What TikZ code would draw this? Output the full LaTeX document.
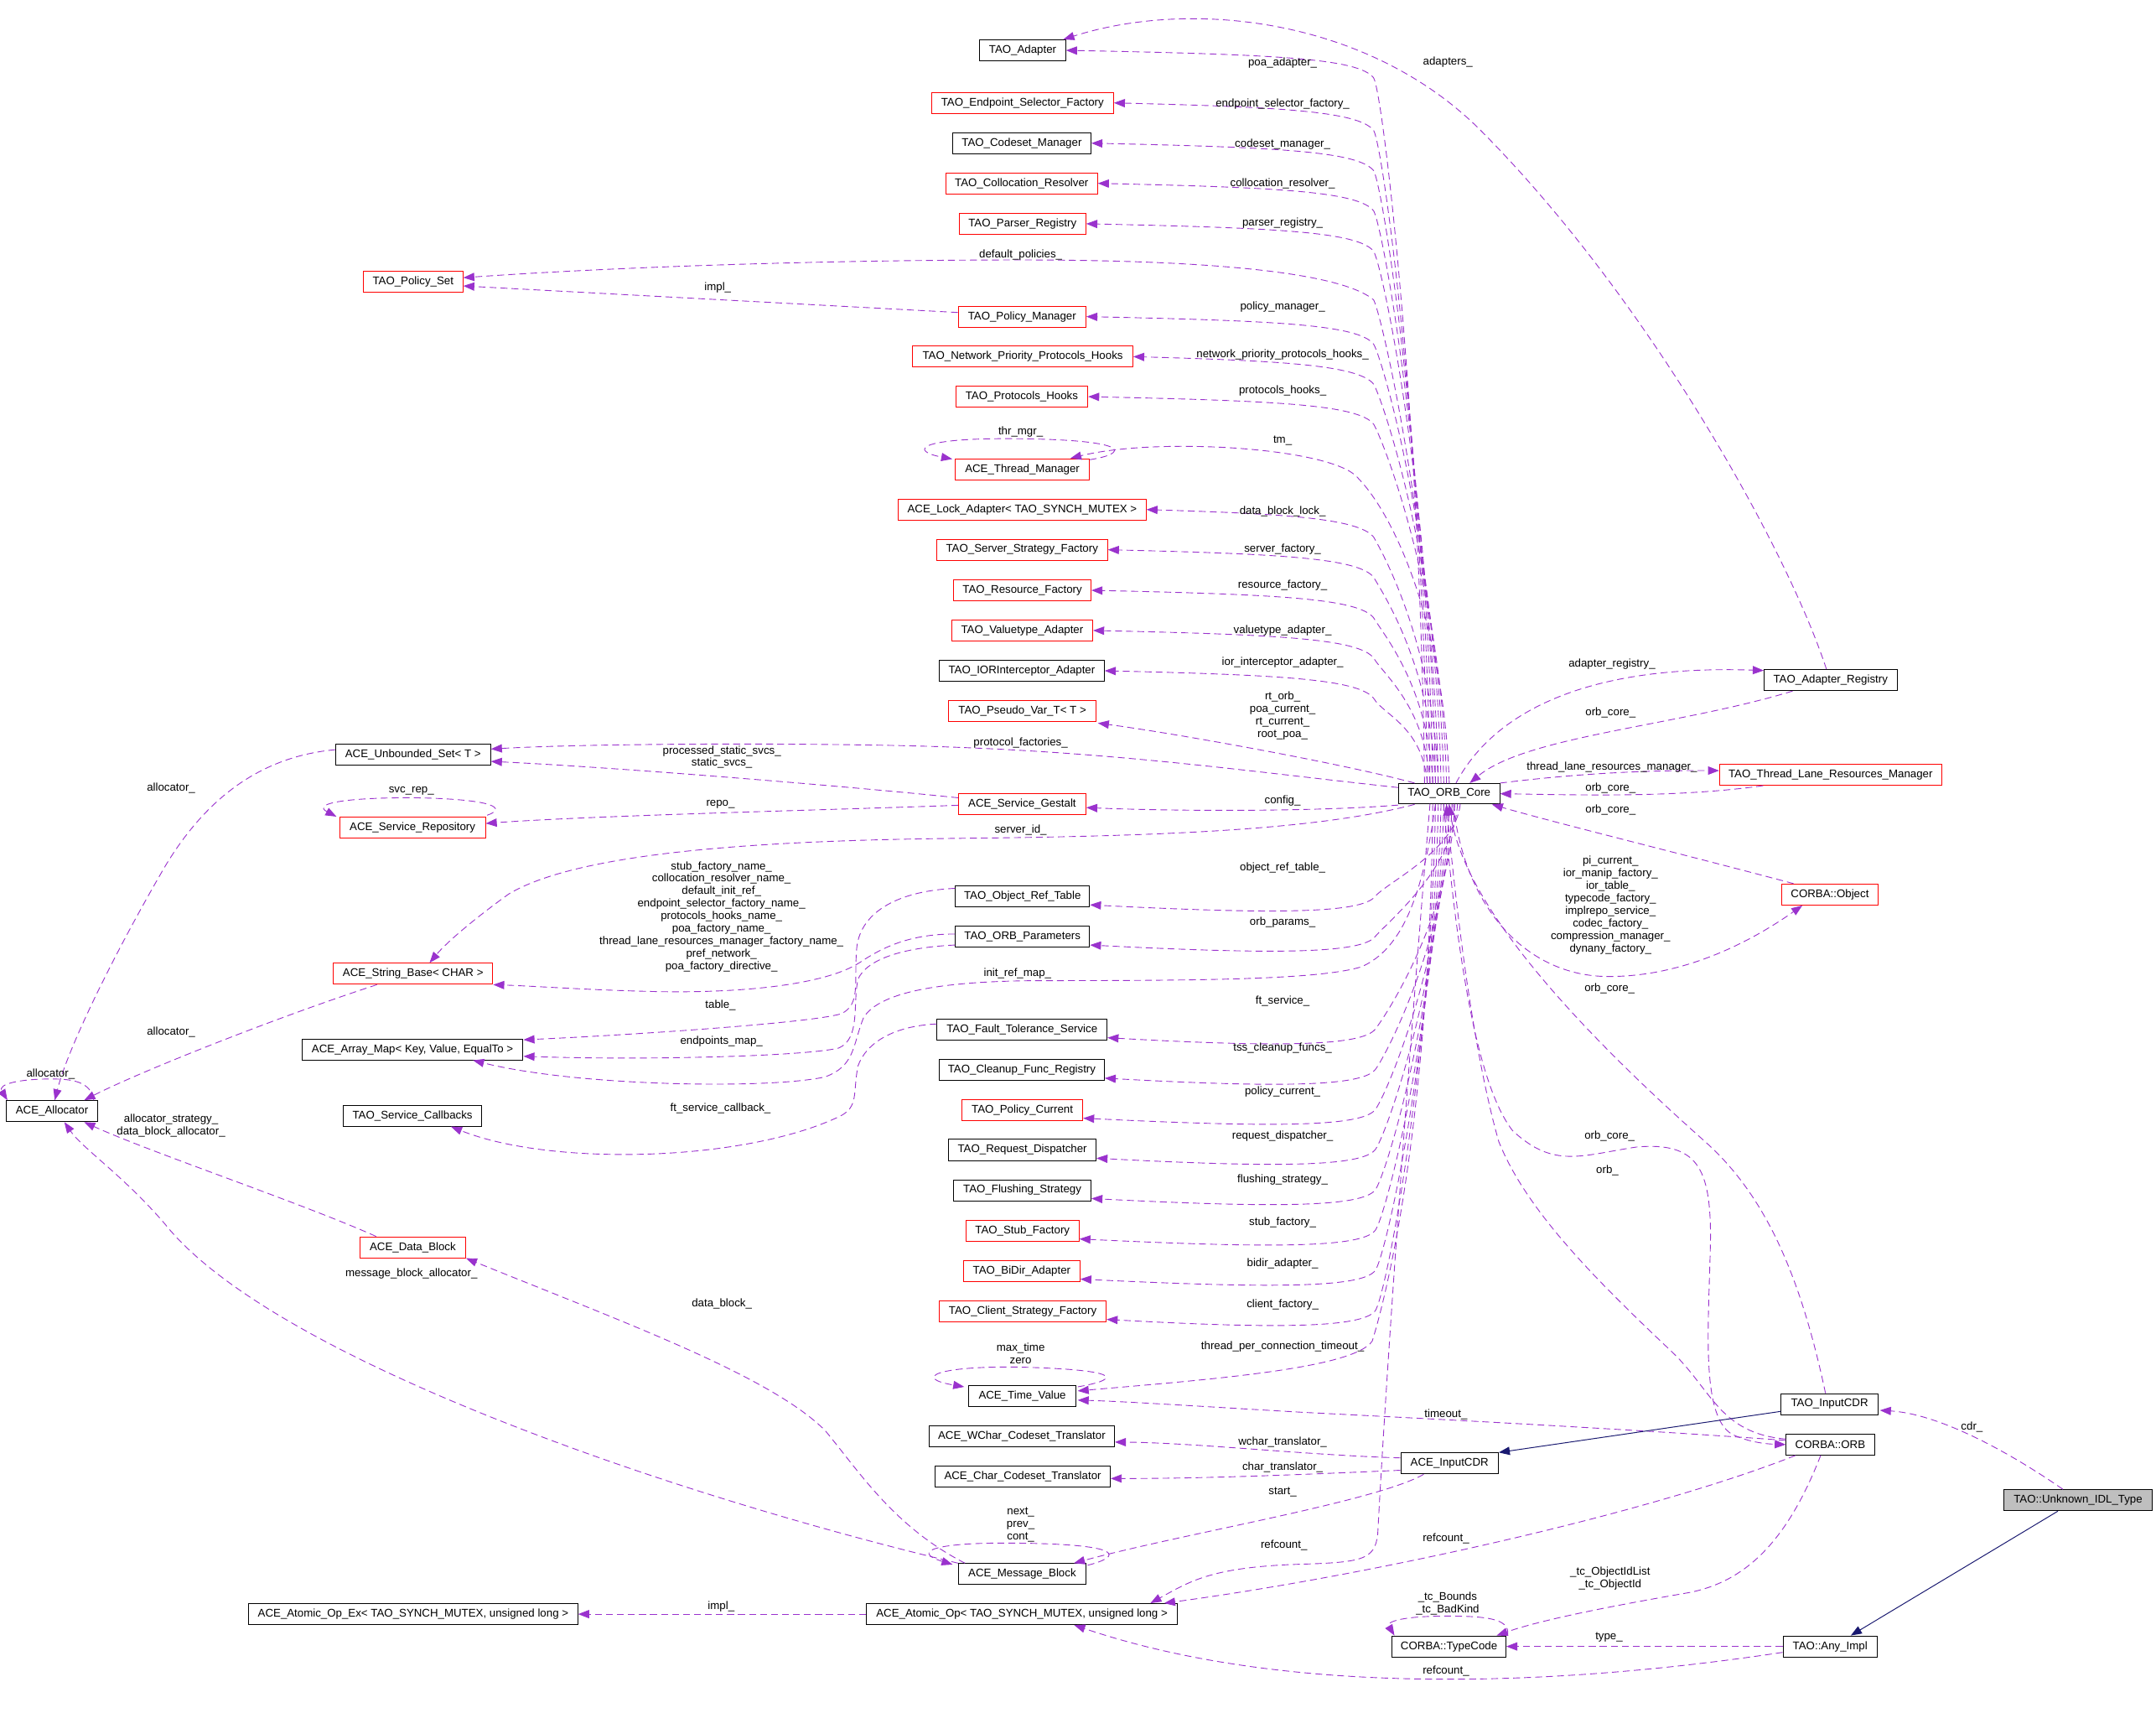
\documentclass[tikz,border=0pt]{standalone}
\usepackage{fontspec}
\newfontfamily\dxfam{Liberation Sans}
\newcommand\dxfont{\dxfam\fontsize{8.1}{9.1}\selectfont}
\usetikzlibrary{arrows.meta,calc}
\definecolor{dpurple}{HTML}{9A32CD}
\definecolor{dnavy}{HTML}{191970}
\definecolor{dgray}{HTML}{BFBFBF}
\tikzset{
  box/.style={draw=black, line width=0.6pt, minimum height=15.3pt, inner sep=0pt, font=\dxfont},
  rbox/.style={box, draw=red},
  dep/.style={draw=dpurple, dash pattern=on 5pt off 3pt, line width=0.55pt, -{Triangle[length=8pt,width=6pt]}},
  inh/.style={draw=dnavy, line width=0.6pt, -{Triangle[length=8pt,width=6pt]}},
  lab/.style={font=\dxfont, inner sep=0pt, align=center, text=black}
}
\newcommand\fanup[3]{\draw[dep] (#3,569.6) .. controls (#3-3,{(569.6+#2)/2}) and (1006,#2+32) .. (999,#2+20) .. controls (988,#2+6) and (930,#2+3) .. (#1.east);}
\newcommand\fandown[3]{\draw[dep] (#3,584.5) .. controls (#3-3,{(584.5+#2)/2}) and (1008,#2-10) .. (1000,#2) .. controls (990,#2+12) and (930,#2+13) .. ($(#1.east)+(0,6)$);}
\begin{document}
\begin{tikzpicture}[x=1pt,y=-1pt]
\useasboundingbox (0,0) rectangle (1568,1245.4);
\fill[white] (0,0) rectangle (1568,1245.4);

% ---------- nodes ----------
\node[box,  minimum width=62.5pt]  (tadapt) at (743.75,36.6) {TAO\_Adapter};
\node[rbox, minimum width=132.4pt] (tesf)   at (743.6,74.8)  {TAO\_Endpoint\_Selector\_Factory};
\node[box,  minimum width=100.6pt] (tcm)    at (743.1,104.1) {TAO\_Codeset\_Manager};
\node[rbox, minimum width=110.3pt] (tcr)    at (743.0,133.3) {TAO\_Collocation\_Resolver};
\node[rbox, minimum width=92.2pt]  (tpr)    at (743.6,162.7) {TAO\_Parser\_Registry};
\node[rbox, minimum width=72.5pt]  (pset)   at (300.4,204.9) {TAO\_Policy\_Set};
\node[rbox, minimum width=92.9pt]  (pmgr)   at (743.3,230.2) {TAO\_Policy\_Manager};
\node[rbox, minimum width=160.1pt] (tnpph)  at (743.8,259.3) {TAO\_Network\_Priority\_Protocols\_Hooks};
\node[rbox, minimum width=96pt]    (tph)    at (743.1,288.4) {TAO\_Protocols\_Hooks};
\node[rbox, minimum width=97.3pt]  (thr)    at (743.5,341.2) {ACE\_Thread\_Manager};
\node[rbox, minimum width=180.2pt] (lock)   at (743.4,370.5) {ACE\_Lock\_Adapter< TAO\_SYNCH\_MUTEX >};
\node[rbox, minimum width=124.3pt] (tssf)   at (743.3,399.7) {TAO\_Server\_Strategy\_Factory};
\node[rbox, minimum width=99.9pt]  (trf)    at (743.5,429.2) {TAO\_Resource\_Factory};
\node[rbox, minimum width=102.6pt] (tva)    at (743.4,458.4) {TAO\_Valuetype\_Adapter};
\node[box,  minimum width=120pt]   (tiora)  at (743.1,487.7) {TAO\_IORInterceptor\_Adapter};
\node[rbox, minimum width=107.3pt] (pvar)   at (743.5,516.8) {TAO\_Pseudo\_Var\_T< T >};
\node[box,  minimum width=112.7pt] (uset)   at (300.4,548.6) {ACE\_Unbounded\_Set< T >};
\node[rbox, minimum width=92.6pt]  (gest)   at (743.4,584.5) {ACE\_Service\_Gestalt};
\node[box,  minimum width=73.6pt, minimum height=14.9pt] (core) at (1053.9,577.1) {TAO\_ORB\_Core};
\node[rbox, minimum width=106pt]   (rep)    at (300.0,601.7) {ACE\_Service\_Repository};
\node[rbox, minimum width=116pt]   (sb)     at (300.4,708.0) {ACE\_String\_Base< CHAR >};
\node[box,  minimum width=97.6pt]  (ort)    at (743.6,651.9) {TAO\_Object\_Ref\_Table};
\node[box,  minimum width=97.6pt]  (orbp)   at (743.6,681.1) {TAO\_ORB\_Parameters};
\node[box,  minimum width=160.8pt] (amap)   at (300.0,763.0) {ACE\_Array\_Map< Key, Value, EqualTo >};
\node[box,  minimum width=66.2pt]  (alloc)  at (37.8,807.9)  {ACE\_Allocator};
\node[box,  minimum width=100.6pt] (scb)    at (300.0,811.2) {TAO\_Service\_Callbacks};
\node[box,  minimum width=123.7pt] (fts)    at (743.3,748.5) {TAO\_Fault\_Tolerance\_Service};
\node[box,  minimum width=120pt]   (tcfr)   at (743.1,777.9) {TAO\_Cleanup\_Func\_Registry};
\node[rbox, minimum width=87.9pt]  (tpc)    at (743.5,807.0) {TAO\_Policy\_Current};
\node[box,  minimum width=107.3pt] (trd)    at (743.5,836.1) {TAO\_Request\_Dispatcher};
\node[box,  minimum width=99.9pt]  (tfs)    at (743.5,865.4) {TAO\_Flushing\_Strategy};
\node[rbox, minimum width=82.2pt]  (tsf)    at (743.6,894.8) {TAO\_Stub\_Factory};
\node[rbox, minimum width=84.6pt]  (tbda)   at (743.1,924.0) {TAO\_BiDir\_Adapter};
\node[rbox, minimum width=121.4pt] (tcsf)   at (743.8,953.3) {TAO\_Client\_Strategy\_Factory};
\node[rbox, minimum width=76.8pt]  (db)     at (300.2,906.9) {ACE\_Data\_Block};
\node[box,  minimum width=77.9pt]  (tv)     at (743.5,1015.3) {ACE\_Time\_Value};
\node[box,  minimum width=134.8pt] (wct)    at (743.1,1044.5) {ACE\_WChar\_Codeset\_Translator};
\node[box,  minimum width=127.4pt] (cct)    at (743.8,1073.6) {ACE\_Char\_Codeset\_Translator};
\node[box,  minimum width=92.6pt]  (mb)     at (743.4,1144.5) {ACE\_Message\_Block};
\node[box,  minimum width=226.3pt] (aop)    at (743.2,1173.6) {ACE\_Atomic\_Op< TAO\_SYNCH\_MUTEX, unsigned long >};
\node[box,  minimum width=239.3pt] (aopex)  at (300.5,1173.6) {ACE\_Atomic\_Op\_Ex< TAO\_SYNCH\_MUTEX, unsigned long >};
\node[box,  minimum width=71pt]    (acdr)   at (1054.2,1064.0) {ACE\_InputCDR};
\node[box,  minimum width=82.7pt]  (tc)     at (1053.8,1197.1) {CORBA::TypeCode};
\node[box,  minimum width=70.6pt]  (tcdr)   at (1330.6,1020.9) {TAO\_InputCDR};
\node[box,  minimum width=64.2pt]  (orb)    at (1331.1,1050.3) {CORBA::ORB};
\node[box,  minimum width=107.6pt, fill=dgray] (unk) at (1511.3,1090.8) {TAO::Unknown\_IDL\_Type};
\node[box,  minimum width=68.5pt]  (anyi)   at (1331.0,1197.1) {TAO::Any\_Impl};
\node[box,  minimum width=96.6pt]  (reg)    at (1331.3,494.5) {TAO\_Adapter\_Registry};
\node[rbox, minimum width=161.5pt] (tlrm)   at (1331.3,563.3) {TAO\_Thread\_Lane\_Resources\_Manager};
\node[rbox, minimum width=70.2pt]  (cobj)   at (1330.8,650.4) {CORBA::Object};

% ---------- top fan from ORB core ----------
\fanup{tadapt}{36.6}{1036}
\fanup{tesf}{74.8}{1038}
\fanup{tcm}{104.1}{1040}
\fanup{tcr}{133.3}{1042}
\fanup{tpr}{162.7}{1044}
\fanup{pmgr}{230.2}{1048}
\fanup{tnpph}{259.3}{1050}
\fanup{tph}{288.4}{1052}
\fanup{lock}{370.5}{1046}
\fanup{tssf}{399.7}{1044}
\fanup{trf}{429.2}{1042}
\fanup{tva}{458.4}{1040}
\fanup{tiora}{487.7}{1038}
\draw[dep] (1046,569.6) .. controls (1043,400) and (1006,232) .. (999,218) .. controls (975,198) and (880,189) .. (742,189) .. controls (600,189) and (450,194) .. ($(pset.east)+(0,-3)$);
\draw[dep] ($(pmgr.west)+(0,-3)$) .. controls (600,222) and (450,214) .. ($(pset.east)+(0,3)$);
\draw[dep] (1054,569.6) .. controls (1050,450) and (1012,370) .. (985,345) .. controls (960,325) and (840,318) .. ($(thr.north east)+(-14,0)$);
\draw[dep] ($(thr.north east)+(0,1)$) .. controls (820,330) and (825,320) .. (742,319) .. controls (665,318) and (662,328) .. ($(thr.north west)+(-2,0.5)$);
\draw[dep] ($(core.north west)+(12,0)$) .. controls (980,556) and (860,534) .. ($(pvar.south east)+(1,1)$);

% ---------- left side ----------
\draw[dep] ($(core.west)+(0,-4.5)$) .. controls (900,560) and (800,545) .. (650,542) .. controls (550,540) and (420,541) .. ($(uset.east)+(0,-4)$);
\draw[dep] ($(core.south west)+(0,0.5)$) .. controls (960,590) and (860,590) .. ($(gest.east)+(0,2.7)$);
\draw[dep] ($(core.south west)+(12,0)$) .. controls (960,603) and (850,608) .. (700,609.5) .. controls (550,611) and (420,620) .. (370,650) .. controls (345,668) and (325,685) .. ($(sb.north)+(12,0)$);
\draw[dep] ($(gest.north west)+(0,3.5)$) .. controls (620,572) and (450,558) .. ($(uset.east)+(0,5)$);
\draw[dep] ($(gest.west)+(0,1)$) .. controls (600,589) and (430,593) .. ($(rep.east)+(0,-3)$);
\draw[dep] ($(rep.north east)+(1,-1)$) .. controls (368,588) and (362,581) .. (300,580) .. controls (245,580) and (228,585) .. ($(rep.north west)+(-2,0)$);
\draw[dep] ($(orbp.west)+(0,-2)$) .. controls (660,679) and (640,690) .. (625,700) .. controls (600,716) and (540,722) .. (480,721) .. controls (430,720) and (390,717) .. (sb.south east);
\draw[dep] ($(ort.west)+(0,-6)$) .. controls (650,648) and (625,665) .. (623,690) .. controls (621,715) and (626,730) .. (612,737) .. controls (590,744) and (450,753) .. ($(amap.east)+(0,-7)$);
\draw[dep] ($(orbp.west)+(0,6)$) .. controls (655,689) and (630,698) .. (624,712) .. controls (620,730) and (626,755) .. (610,762) .. controls (585,768) and (470,771) .. ($(amap.east)+(0,5)$);
\draw[dep] ($(core.south)+(-10,0)$) .. controls (1035,650) and (1020,690) .. (990,703) .. controls (960,712) and (880,713) .. (760,713) .. controls (690,713) and (640,720) .. (628,740) .. controls (620,760) and (622,775) .. (600,783) .. controls (560,792) and (420,790) .. ($(amap.south)+(44,0)$);
\draw[dep] ($(fts.west)+(0,-4)$) .. controls (650,746) and (630,758) .. (624,775) .. controls (620,795) and (625,805) .. (610,812) .. controls (540,845) and (400,848) .. ($(scb.south)+(28,0)$);

% ---------- bottom fan ----------
\fandown{ort}{651.9}{1062}
\fandown{orbp}{681.1}{1060}
\fandown{fts}{748.5}{1058}
\fandown{tcfr}{777.9}{1056}
\fandown{tpc}{807}{1054}
\fandown{trd}{836.1}{1052}
\fandown{tfs}{865.4}{1050}
\fandown{tsf}{894.8}{1048}
\fandown{tbda}{924}{1046}
\fandown{tcsf}{953.3}{1044}
\draw[dep] (1042,584.5) .. controls (1040,800) and (1012,930) .. (998,975) .. controls (985,995) and (880,1003) .. ($(tv.east)+(1,-4)$);
\draw[dep] (1040,584.5) .. controls (1025,760) and (1008,1000) .. (1002,1115) .. controls (1000,1135) and (990,1136) .. (940,1137.5) .. controls (880,1140) and (865,1150) .. ($(aop.north east)+(-20,0)$);

% ---------- right side ----------
\draw[dep] ($(reg.north)+(-3,0)$) .. controls (1300,400) and (1200,220) .. (1080,98) .. controls (1000,15) and (870,-2) .. ($(tadapt.north east)+(-2,0)$);
\draw[dep] ($(core.north)+(5,0)$) .. controls (1085,520) and (1150,483) .. ($(reg.west)+(0,-7)$);
\draw[dep] ($(reg.south west)+(21,0)$) .. controls (1220,528) and (1110,535) .. ($(core.north)+(15,0)$);
\draw[dep] (core.north east) .. controls (1150,562) and (1200,560) .. ($(tlrm.west)+(0,-3)$);
\draw[dep] ($(tlrm.south west)+(32,0)$) .. controls (1220,580) and (1150,578) .. (core.east);
\draw[dep] ($(cobj.north west)+(9,0)$) .. controls (1220,620) and (1130,598) .. ($(core.south east)+(-6,0)$);
\draw[dep] ($(core.south)+(3,0)$) .. controls (1065,660) and (1110,710) .. (1170,710) .. controls (1230,710) and (1280,680) .. ($(cobj.south)+(-20,0)$);
\draw[dep] ($(tcdr.north)+(-3,0)$) .. controls (1310,930) and (1285,870) .. (1240,830) .. controls (1150,750) and (1065,660) .. (core.south);
\draw[dep] ($(orb.west)+(0,-4)$) .. controls (1250,1042) and (1245,1010) .. (1215,982) .. controls (1160,930) and (1110,880) .. (1090,830) .. controls (1070,760) and (1058,650) .. ($(core.south)+(-2,0)$);
\draw[dep] ($(core.south)+(-4,0)$) .. controls (1060,700) and (1075,790) .. (1100,822) .. controls (1130,850) and (1150,840) .. (1190,834) .. controls (1235,830) and (1244,850) .. (1244,900) .. controls (1243,960) and (1236,1030) .. (1260,1043) .. controls (1275,1050) and (1290,1050) .. (orb.west);
\draw[dep] ($(orb.west)+(0,-3)$) .. controls (1200,1040) and (1050,1032) .. (950,1027) .. controls (880,1023) and (820,1019) .. ($(tv.east)+(1,2.7)$);
\draw[inh] ($(tcdr.west)+(0,5.3)$) -- (acdr.north east);
\draw[inh] ($(unk.south)+(-14.7,0)$) -- ($(anyi.north)+(15,0)$);
\draw[dep] ($(unk.north)+(-11,0)$) .. controls (1460,1055) and (1410,1028) .. ($(tcdr.east)+(1,4.5)$);
\draw[dep] ($(acdr.west)+(0,-4)$) .. controls (950,1058) and (870,1049) .. ($(wct.east)+(0,4)$);
\draw[dep] ($(acdr.west)+(0,5)$) .. controls (950,1072) and (880,1075) .. ($(cct.east)+(0,1.4)$);
\draw[dep] ($(acdr.south west)+(17,0)$) .. controls (1000,1092) and (860,1115) .. ($(mb.north east)+(-9,0)$);
\draw[dep] ($(mb.north east)+(1,1.5)$) .. controls (815,1132) and (820,1123) .. (742,1122) .. controls (680,1121) and (662,1128) .. ($(mb.north west)+(-4,1)$);
\draw[dep] ($(tv.north east)+(1,1)$) .. controls (815,1003) and (818,996) .. (742,994) .. controls (680,993) and (664,1002) .. ($(tv.north west)+(-3,1)$);

% ---------- allocator area ----------
\draw[dep] ($(mb.north west)+(5,0)$) .. controls (650,1110) and (625,1070) .. (600,1040) .. controls (560,1000) and (450,960) .. (db.south east);
\draw[dep] (mb.north west) .. controls (500,1090) and (200,990) .. (120,890) .. controls (90,855) and (60,835) .. ($(alloc.south)+(9,0)$);
\draw[dep] ($(db.north west)+(12,0)$) .. controls (220,875) and (110,838) .. ($(alloc.south east)+(-10,0)$);
\draw[dep] ($(alloc.north east)+(-3,0)$) .. controls (66,786) and (52,784.5) .. (37,784.5) .. controls (15,784.5) and (-2,788) .. ($(alloc.north west)+(1,0)$);
\draw[dep] ($(uset.west)+(0,-3.5)$) .. controls (190,550) and (150,580) .. (120,630) .. controls (85,690) and (50,760) .. ($(alloc.north)+(2,0)$);
\draw[dep] ($(sb.south west)+(32,0)$) .. controls (200,740) and (100,780) .. ($(alloc.north east)+(-10,0)$);

% ---------- atomic / typecode ----------
\draw[dep] (aop.west) -- (aopex.east);
\draw[dep] ($(orb.south west)+(7,0)$) .. controls (1200,1100) and (1000,1145) .. ($(aop.north east)+(-10,0)$);
\draw[dep] ($(anyi.west)+(0,4.3)$) .. controls (1120,1228) and (930,1232) .. ($(aop.south)+(38,0)$);
\draw[dep] (anyi.west) -- (tc.east);
\draw[dep] ($(orb.south)+(-7,0)$) .. controls (1300,1120) and (1270,1150) .. (1228,1158) .. controls (1170,1168) and (1120,1178) .. ($(tc.north east)+(-7,0)$);
\draw[dep] ($(tc.north east)+(1,-0.5)$) .. controls (1098,1178) and (1085,1175) .. (1053,1175) .. controls (1020,1175) and (1008,1179) .. ($(tc.north west)+(2,0)$);

% ---------- labels ----------
\node[lab] (l1) at (1053,44.9) {adapters\_};
\node[lab] (l2) at (932.8,45.7) {poa\_adapter\_};
\node[lab] (l3) at (932.8,75.4) {endpoint\_selector\_factory\_};
\node[lab] (l4) at (932.8,104.8) {codeset\_manager\_};
\node[lab] (l5) at (932.8,133.3) {collocation\_resolver\_};
\node[lab] (l6) at (932.8,162.4) {parser\_registry\_};
\node[lab] (l7) at (742.3,185.3) {default\_policies\_};
\node[lab] (l8) at (522,209) {impl\_};
\node[lab] (l9) at (932.8,223.1) {policy\_manager\_};
\node[lab] (l10) at (932.8,257.7) {network\_priority\_protocols\_hooks\_};
\node[lab] (l11) at (932.8,284.1) {protocols\_hooks\_};
\node[lab] (l12) at (742.3,314.3) {thr\_mgr\_};
\node[lab] (l13) at (932.8,320.5) {tm\_};
\node[lab] (l14) at (932.8,371.7) {data\_block\_lock\_};
\node[lab] (l15) at (932.8,399.2) {server\_factory\_};
\node[lab] (l16) at (932.8,425.5) {resource\_factory\_};
\node[lab] (l17) at (932.8,458.5) {valuetype\_adapter\_};
\node[lab] (l18) at (932.8,481.9) {ior\_interceptor\_adapter\_};
\node[lab] (l19) at (932.8,520.5) {rt\_orb\_\\poa\_current\_\\rt\_current\_\\root\_poa\_};
\node[lab] (l20) at (742.3,539.9) {protocol\_factories\_};
\node[lab] (l21) at (525,550.5) {processed\_static\_svcs\_\\static\_svcs\_};
\node[lab] (l22) at (524,585) {repo\_};
\node[lab] (l23) at (299.2,575) {svc\_rep\_};
\node[lab] (l24) at (932.8,582.1) {config\_};
\node[lab] (l25) at (742.3,603.6) {server\_id\_};
\node[lab] (l26) at (524.7,666.5) {stub\_factory\_name\_\\collocation\_resolver\_name\_\\default\_init\_ref\_\\endpoint\_selector\_factory\_name\_\\protocols\_hooks\_name\_\\poa\_factory\_name\_\\thread\_lane\_resources\_manager\_factory\_name\_\\pref\_network\_\\poa\_factory\_directive\_};
\node[lab] (l27) at (524,730.9) {table\_};
\node[lab] (l28) at (524.7,757.5) {endpoints\_map\_};
\node[lab] (l29) at (740,707.8) {init\_ref\_map\_};
\node[lab] (l30) at (524,805.7) {ft\_service\_callback\_};
\node[lab] (l31) at (932.8,630.8) {object\_ref\_table\_};
\node[lab] (l32) at (932.8,670.5) {orb\_params\_};
\node[lab] (l33) at (932.8,727.6) {ft\_service\_};
\node[lab] (l34) at (932.8,761.9) {tss\_cleanup\_funcs\_};
\node[lab] (l35) at (932.8,794) {policy\_current\_};
\node[lab] (l36) at (932.8,825.9) {request\_dispatcher\_};
\node[lab] (l37) at (932.8,857.9) {flushing\_strategy\_};
\node[lab] (l38) at (932.8,888.6) {stub\_factory\_};
\node[lab] (l39) at (932.8,918.6) {bidir\_adapter\_};
\node[lab] (l40) at (932.8,948.4) {client\_factory\_};
\node[lab] (l41) at (932.8,978.9) {thread\_per\_connection\_timeout\_};
\node[lab] (l42) at (742.3,984.1) {max\_time\\zero};
\node[lab] (l43) at (1051.6,1028.2) {timeout\_};
\node[lab] (l44) at (932.8,1048.4) {wchar\_translator\_};
\node[lab] (l45) at (932.8,1066.6) {char\_translator\_};
\node[lab] (l46) at (932.8,1084.6) {start\_};
\node[lab] (l47) at (742.3,1108.8) {next\_\\prev\_\\cont\_};
\node[lab] (l48) at (933.8,1123.4) {refcount\_};
\node[lab] (l49) at (1051.6,1118.6) {refcount\_};
\node[lab] (l50) at (1051.6,1215.2) {refcount\_};
\node[lab] (l51) at (524.5,1167.9) {impl\_};
\node[lab] (l52) at (1170.2,1190.5) {type\_};
\node[lab] (l53) at (1171,1147.6) {\_tc\_ObjectIdList\\\_tc\_ObjectId};
\node[lab] (l54) at (1052.8,1166) {\_tc\_Bounds\\\_tc\_BadKind};
\node[lab] (l55) at (1434.1,1037.9) {cdr\_};
\node[lab] (l56) at (1172.3,483) {adapter\_registry\_};
\node[lab] (l57) at (1171.3,518.1) {orb\_core\_};
\node[lab] (l58) at (1172.3,558.1) {thread\_lane\_resources\_manager\_};
\node[lab] (l59) at (1171.3,572.8) {orb\_core\_};
\node[lab] (l60) at (1171.3,588.9) {orb\_core\_};
\node[lab] (l61) at (1171.3,658) {pi\_current\_\\ior\_manip\_factory\_\\ior\_table\_\\typecode\_factory\_\\implrepo\_service\_\\codec\_factory\_\\compression\_manager\_\\dynany\_factory\_};
\node[lab] (l62) at (1170.6,718.7) {orb\_core\_};
\node[lab] (l63) at (1170.6,825.9) {orb\_core\_};
\node[lab] (l64) at (1169,851.2) {orb\_};
\node[lab] (l65) at (124.4,572.8) {allocator\_};
\node[lab] (l66) at (124.4,750.5) {allocator\_};
\node[lab] (l67) at (36.8,781.2) {allocator\_};
\node[lab] (l68) at (124.4,818.3) {allocator\_strategy\_\\data\_block\_allocator\_};
\node[lab] (l69) at (299.2,925.9) {message\_block\_allocator\_};
\node[lab] (l70) at (525,947.9) {data\_block\_};
\end{tikzpicture}
\end{document}
